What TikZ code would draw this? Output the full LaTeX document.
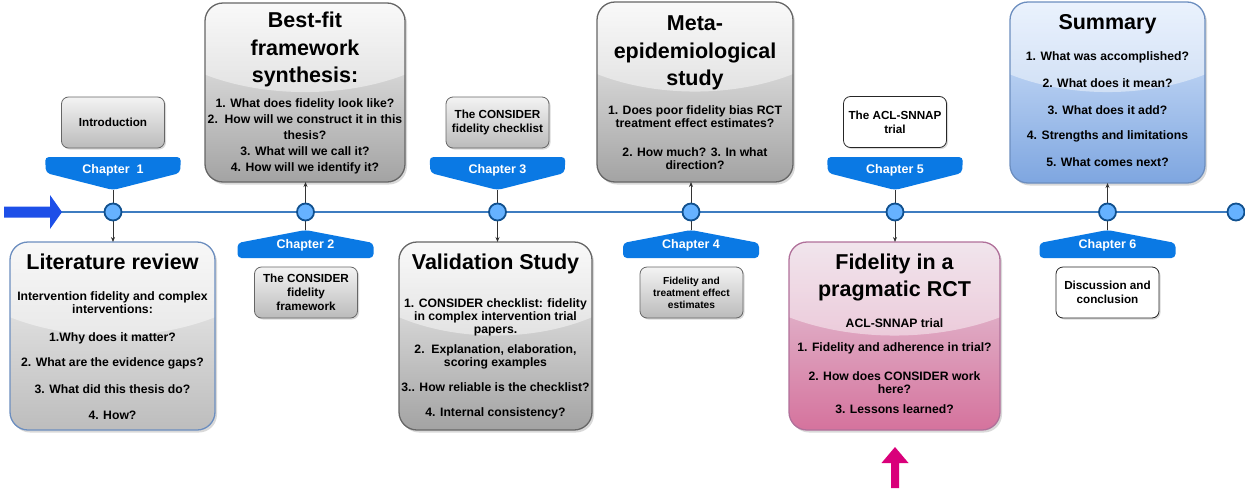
\documentclass[tikz,border=0pt]{standalone}
\usepackage{fontspec}
\setmainfont{Liberation Sans}
\usetikzlibrary{arrows.meta,shadows}

\definecolor{lineblue}{HTML}{3D7CC0}
\definecolor{dotfill}{HTML}{66B2FF}
\definecolor{dotedge}{HTML}{11518F}
\definecolor{bannerblue}{HTML}{0A79E4}
\definecolor{startblue}{HTML}{1D4FE8}
\definecolor{pinkup}{HTML}{D9007A}
\definecolor{greytop}{HTML}{F5F5F5}
\definecolor{greybot}{HTML}{A3A3A3}
\definecolor{greyLtop}{HTML}{F2F2F2}
\definecolor{greyLbot}{HTML}{BDBDBD}
\definecolor{greyedge}{HTML}{666666}
\definecolor{smalltop}{HTML}{F3F3F3}
\definecolor{smallbot}{HTML}{BBBBBB}
\definecolor{bluetop}{HTML}{DAE8FC}
\definecolor{bluebot}{HTML}{7EA6E0}
\definecolor{blueedge}{HTML}{6C8EBF}
\definecolor{pinktop}{HTML}{E6D0DE}
\definecolor{pinkbot}{HTML}{D5739D}
\definecolor{pinkedge}{HTML}{B0709A}

% glossy chapter box: name, top colour, bottom colour, edge colour, x1, y1, x2, y2
\newcommand\glossbox[8]{%
  \node[bigbox, top color=#2, bottom color=#3,
        minimum width={#7-#5}, minimum height={#8-#6}]
        (#1) at ({(#5+#7)/2},{(#6+#8)/2}) {};
  \begin{scope}
    \clip[rounded corners=18pt] (#5,#6) rectangle (#7,#8);
    \fill[white, fill opacity=0.45]
      (#5,#6) -- (#7,#6) -- (#7,{#6+0.4*(#8-#6)})
      .. controls ({#7-0.3*(#7-#5)},{#6+0.53*(#8-#6)})
             and ({#5+0.3*(#7-#5)},{#6+0.53*(#8-#6)}) .. (#5,{#6+0.4*(#8-#6)}) -- cycle;
  \end{scope}
  \draw[draw=#4, line width=1.3pt, rounded corners=18pt] (#5,#6) rectangle (#7,#8);
}

% chapter banner above the timeline, pointing down: name, x, label
\newcommand\downbanner[3]{%
  \fill[bannerblue, rounded corners=4pt] ({#2-68},157) -- ({#2+68},157) -- ({#2+67},173)
    -- (#2,190) -- ({#2-67},173) -- cycle;
  \coordinate (#1tip) at (#2,190);
  \node[chap] (#1) at (#2,170) {#3};
}
% chapter banner below the timeline, pointing up: name, x, label
\newcommand\upbanner[3]{%
  \fill[bannerblue, rounded corners=4pt] ({#2-68},258) -- ({#2+68},258) -- ({#2+68},243)
    -- (#2,230) -- ({#2-68},243) -- cycle;
  \coordinate (#1tip) at (#2,230);
  \node[chap] (#1) at (#2,245.5) {#3};
}

\begin{document}
\begin{tikzpicture}[x=1pt,y=-1pt,
  bigbox/.style={rounded corners=18pt, inner sep=0pt, outer sep=0pt,
    drop shadow={shadow xshift=2pt, shadow yshift=-2.5pt, opacity=0.3}},
  ttl/.style={font=\fontsize{21.5}{27.5}\selectfont\bfseries, align=center, inner sep=0pt},
  bd/.style={font=\fontsize{12.2}{13}\selectfont\bfseries, align=center, inner sep=0pt},
  bdloose/.style={font=\fontsize{12.2}{16}\selectfont\bfseries, align=center, inner sep=0pt},
  chap/.style={font=\fontsize{12.5}{14}\selectfont\bfseries, text=white, inner sep=0pt},
  smallbase/.style={rounded corners=7pt, line width=0.8pt, minimum width=103pt,
    minimum height=51pt, inner sep=0pt, outer sep=0pt, align=center,
    font=\fontsize{11.7}{14.3}\selectfont\bfseries,
    drop shadow={shadow xshift=1.5pt, shadow yshift=-1.5pt, opacity=0.3}},
  greysmall/.style={smallbase, draw=greyedge, top color=smalltop, bottom color=smallbot},
  whitesmall/.style={smallbase, draw=black!85, fill=white},
  conn/.style={draw=black!80, line width=0.8pt, -{Stealth[length=5pt,width=4pt]}},
  dot/.style={circle, fill=dotfill, draw=dotedge, line width=1.8pt, minimum size=17pt, inner sep=0pt}]

\useasboundingbox (0,0) rectangle (1245,493);

% ---------- chapter boxes ----------
\glossbox{lr}{greyLtop}{greyLbot}{blueedge}{10}{242}{215}{430}
\node[ttl] (lrT) at (112.5,262) {Literature review};
\node[bd] (lr0) at (112.5,303) {Intervention fidelity and complex\\interventions:};
\node[bd] (lr1) at (112.5,338) {1.Why does it matter?};
\node[bd] (lr2) at (112.5,363) {2. What are the evidence gaps?};
\node[bd] (lr3) at (112.5,389) {3. What did this thesis do?};
\node[bd] (lr4) at (112.5,415) {4. How?};

\glossbox{bf}{greytop}{greybot}{greyedge}{205}{3}{405}{182}
\node[ttl] (bfT) at (305,49.5) {Best-fit\\framework\\synthesis:};
\node[bdloose] (bfB) at (305,136) {1. What does fidelity look like?\\2.\ \ How will we construct it in this\\thesis?\\3. What will we call it?\\4. How will we identify it?};

\glossbox{vs}{greytop}{greybot}{greyedge}{399}{242}{592}{430}
\node[ttl] (vsT) at (495.5,264) {Validation Study};
\node[bd] (vs1) at (495.5,317) {1. CONSIDER checklist: fidelity\\in complex intervention trial\\papers.};
\node[bd] (vs2) at (495.5,357) {2.\ \ Explanation, elaboration,\\scoring examples};
\node[bd] (vs3) at (495.5,387) {3.. How reliable is the checklist?};
\node[bd] (vs4) at (495.5,413) {4. Internal consistency?};

\glossbox{me}{greytop}{greybot}{greyedge}{597}{2}{793}{182}
\node[ttl] (meT) at (695,53) {Meta-\\epidemiological\\study};
\node[bd] (me1) at (695,116.5) {1. Does poor fidelity bias RCT\\treatment effect estimates?};
\node[bd] (me2) at (695,158.5) {2. How much? 3. In what\\direction?};

\glossbox{fp}{pinktop}{pinkbot}{pinkedge}{789}{242}{1000}{430}
\node[ttl] (fpT) at (894.5,277.5) {Fidelity in a\\pragmatic RCT};
\node[bd] (fp0) at (894.5,323) {ACL-SNNAP trial};
\node[bd] (fp1) at (894.5,348) {1. Fidelity and adherence in trial?};
\node[bd] (fp2) at (894.5,382.5) {2. How does CONSIDER work\\here?};
\node[bd] (fp3) at (894.5,409) {3. Lessons learned?};

\glossbox{su}{bluetop}{bluebot}{blueedge}{1010}{2}{1205}{183}
\node[ttl] (suT) at (1107.5,24) {Summary};
\node[bd] (su1) at (1107.5,57) {1. What was accomplished?};
\node[bd] (su2) at (1107.5,83) {2. What does it mean?};
\node[bd] (su3) at (1107.5,110) {3. What does it add?};
\node[bd] (su4) at (1107.5,136) {4. Strengths and limitations};
\node[bd] (su5) at (1107.5,162) {5. What comes next?};

% ---------- small topic boxes ----------
\node[greysmall] (intro) at (113,122.5) {Introduction};
\node[greysmall] (cfw) at (306,292.5) {The CONSIDER\\fidelity\\framework};
\node[greysmall] (ccl) at (497.5,122.5) {The CONSIDER\\fidelity checklist};
\node[greysmall, font=\fontsize{10.2}{12}\selectfont\bfseries] (fte) at (691.5,292.5) {Fidelity and\\treatment effect\\estimates};
\node[whitesmall] (acl) at (895,122) {The ACL-SNNAP\\trial};
\node[whitesmall] (dis) at (1107.5,292.5) {Discussion and\\conclusion};

% ---------- chapter banners ----------
\downbanner{ch1}{113}{Chapter\ \ 1}
\upbanner{ch2}{305.5}{Chapter 2}
\downbanner{ch3}{497.5}{Chapter 3}
\upbanner{ch4}{691}{Chapter 4}
\downbanner{ch5}{895}{Chapter 5}
\upbanner{ch6}{1107.5}{Chapter 6}

% ---------- timeline ----------
\coordinate (tlstart) at (50,212);
\coordinate (p1) at (113,212);
\coordinate (p2) at (305.5,212);
\coordinate (p3) at (497.5,212);
\coordinate (p4) at (691,212);
\coordinate (p5) at (895,212);
\coordinate (p6) at (1107.5,212);
\coordinate (p7) at (1236,212);
\draw[lineblue, line width=2.5pt] (tlstart) -- (p7);

\draw[conn] (ch1tip) -- (ch1tip |- lr.north);
\draw[conn] (ch2tip) -- (ch2tip |- bf.south);
\draw[conn] (ch3tip) -- (ch3tip |- vs.north);
\draw[conn] (ch4tip) -- (ch4tip |- me.south);
\draw[conn] (ch5tip) -- (ch5tip |- fp.north);
\draw[conn] (ch6tip) -- (ch6tip |- su.south);

\foreach \i in {1,...,7} { \node[dot] (d\i) at (p\i) {}; }

% start arrow
\fill[startblue] (4,206.5) -- (50,206.5) -- (50,195) -- (62,212) -- (50,229)
  -- (50,217.5) -- (4,217.5) -- cycle;

% marker arrow under the pragmatic trial chapter
\fill[pinkup] (891,488) -- (891,463) -- (881.5,463) -- (895,447) -- (908.5,463)
  -- (899,463) -- (899,488) -- cycle;

\end{tikzpicture}
\end{document}
